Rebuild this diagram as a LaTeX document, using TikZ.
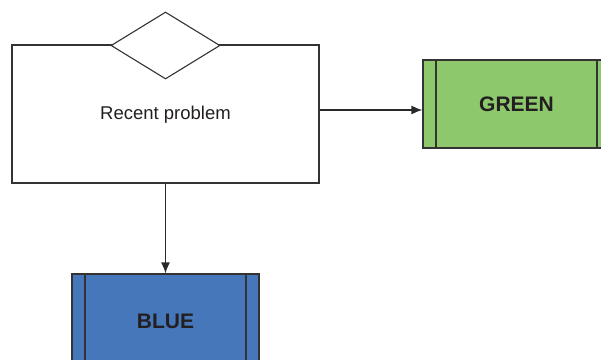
\documentclass[tikz,border=0pt]{standalone}
\usepackage{fontspec}
\setmainfont{Liberation Sans}
\usetikzlibrary{shapes.geometric,arrows.meta}
\definecolor{edge}{HTML}{333333}
\definecolor{txt}{HTML}{231F20}
\definecolor{greenfill}{HTML}{8DC86C}
\definecolor{bluefill}{HTML}{4677BB}
\tikzset{
  frame/.style={draw=edge, line width=1.1pt},
  procbox/.style={frame, rectangle, inner sep=0pt, minimum width=187pt,
    text=txt, font=\fontsize{21}{24}\selectfont\bfseries,
    path picture={
      \draw[edge, line width=1.1pt]
        ([xshift=13pt]path picture bounding box.north west) --
        ([xshift=13pt]path picture bounding box.south west);
      \draw[edge, line width=1.1pt]
        ([xshift=-13pt]path picture bounding box.north east) --
        ([xshift=-13pt]path picture bounding box.south east);
    }},
  link/.style={draw=edge!80!black, line width=1.5pt, -{Latex[length=11pt,width=9pt]}}
}
\begin{document}
\begin{tikzpicture}[x=1pt, y=-1pt]
  \useasboundingbox (0,0) rectangle (601,359);
  \clip (0,0) rectangle (601,359);

  % decision frame with its diamond on the top edge
  \node[frame, rectangle, fill=white, inner sep=0pt, minimum width=307pt,
        minimum height=138pt] (main) at (165.5,114) {};
  \node[text=txt, font=\fontsize{18.5}{22}\selectfont] (label) at (165.5,115) {Recent problem};
  \node[frame, diamond, fill=white, inner sep=0pt, minimum width=109pt,
        minimum height=67pt] (dec) at (165.5,45.5) {};

  % outcome boxes
  \node[procbox, fill=greenfill, minimum height=88pt] (green) at (516.5,104) {GREEN};
  \node[procbox, fill=bluefill, minimum height=94pt] (blue) at (165.5,321) {BLUE};

  % connectors
  \coordinate (exitR) at (main.east |- 0,110);
  \draw[link] (exitR) -- (green.west |- exitR);
  \draw[link] (main.south) -- (blue.north);
\end{tikzpicture}
\end{document}
